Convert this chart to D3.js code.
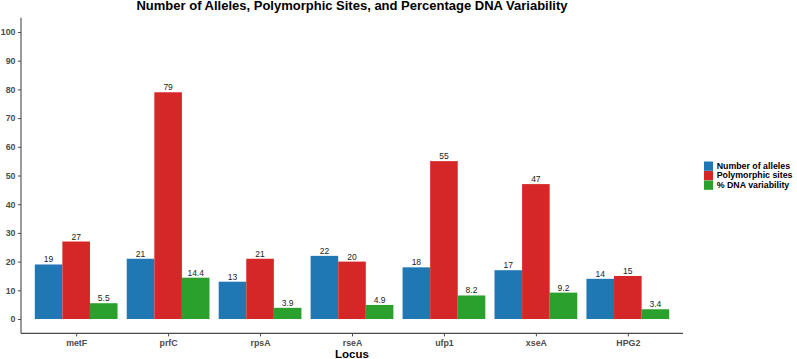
<!DOCTYPE html>
<html>
<head>
<meta charset="utf-8">
<script src="https://cdn.jsdelivr.net/npm/d3@7"></script>
<style>
  body { margin: 0; background: #fff; }
  svg { display: block; font-family: "Liberation Sans", Arial, Helvetica, sans-serif; }
</style>
</head>
<body>
<svg id="chart" width="797" height="359"></svg>
<script>
const loci = ["metF", "prfC", "rpsA", "rseA", "ufp1", "xseA", "HPG2"];
const seriesNames = ["Number of alleles", "Polymorphic sites", "% DNA variability"];
const alleles = [19, 21, 13, 22, 18, 17, 14];
const polySites = [27, 79, 21, 20, 55, 47, 15];
const dnaVar = [5.5, 14.4, 3.9, 4.9, 8.2, 9.2, 3.4];
const valueLabels = [
  ["19","21","13","22","18","17","14"],
  ["27","79","21","20","55","47","15"],
  ["5.5","14.4","3.9","4.9","8.2","9.2","3.4"]
];
const yTicks = [0, 10, 20, 30, 40, 50, 60, 70, 80, 90, 100];
const colors = ["#1f77b4", "#d62728", "#2ca02c"];
const seriesValues = [alleles, polySites, dnaVar];

const svg = d3.select("#chart");
const panelLeft = 21, panelRight = 683, panelTop = 17.65, panelBottom = 333.35;

const x = d3.scalePoint().domain(loci).range([panelLeft, panelRight]).padding(0.6);
const step = x.step();
const xs = d3.scaleBand().domain(seriesNames).range([-0.45 * step, 0.45 * step]).padding(0);
const y = d3.scaleLinear().domain([-5, 105]).range([panelBottom, panelTop]);
const color = d3.scaleOrdinal().domain(seriesNames).range(colors);

// data table
const rows = [];
seriesNames.forEach((s, si) => {
  loci.forEach((l, li) => {
    rows.push({ locus: l, series: s, value: seriesValues[si][li], label: valueLabels[si][li] });
  });
});

// bars
svg.append("g").selectAll("rect").data(rows).join("rect")
  .attr("x", d => x(d.locus) + xs(d.series))
  .attr("width", xs.bandwidth())
  .attr("y", d => y(d.value))
  .attr("height", d => y(0) - y(d.value))
  .attr("fill", d => color(d.series));

// value labels
svg.append("g").selectAll("text").data(rows).join("text")
  .attr("x", d => x(d.locus) + xs(d.series) + xs.bandwidth() / 2)
  .attr("y", d => y(d.value) - 2)
  .attr("text-anchor", "middle")
  .attr("font-size", 8.5)
  .attr("fill", "#222")
  .text(d => d.label);

// axes
const axisColor = "#4a4a4a";
const yAxis = svg.append("g").attr("transform", `translate(${panelLeft},0)`)
  .call(d3.axisLeft(y).tickValues(yTicks).tickSize(3).tickPadding(2.5).tickSizeOuter(0));
yAxis.select(".domain").remove();
yAxis.append("line").attr("x1", 0).attr("x2", 0).attr("y1", panelTop).attr("y2", panelBottom)
  .attr("stroke", axisColor).attr("stroke-width", 1.1);

const xAxis = svg.append("g").attr("transform", `translate(0,${panelBottom})`)
  .call(d3.axisBottom(x).tickSize(3).tickPadding(3).tickSizeOuter(0));
xAxis.select(".domain").remove();
xAxis.append("line").attr("x1", panelLeft).attr("x2", panelRight).attr("y1", 0).attr("y2", 0)
  .attr("stroke", axisColor).attr("stroke-width", 1.1);

[yAxis, xAxis].forEach(g => {
  g.selectAll(".tick line").attr("stroke", axisColor).attr("stroke-width", 1);
  g.selectAll(".tick text").attr("fill", "#4d4d4d").attr("font-size", 8.8)
    .attr("font-weight", "bold").attr("font-family", "Liberation Sans, Arial, sans-serif");
});

// title
svg.append("text").attr("x", (panelLeft + panelRight) / 2).attr("y", 9.6)
  .attr("text-anchor", "middle").attr("font-size", 13).attr("font-weight", "bold")
  .attr("fill", "#000")
  .text("Number of Alleles, Polymorphic Sites, and Percentage DNA Variability");

// x axis title
svg.append("text").attr("x", (panelLeft + panelRight) / 2).attr("y", 357.6)
  .attr("text-anchor", "middle").attr("font-size", 11.5).attr("font-weight", "bold")
  .attr("fill", "#000").text("Locus");

// legend
const legend = svg.append("g").attr("transform", "translate(704,161.5)");
const lg = legend.selectAll("g").data(seriesNames).join("g")
  .attr("transform", (d, i) => `translate(0,${i * 9.5})`);
lg.append("rect").attr("width", 9).attr("height", 9.3).attr("fill", d => color(d));
lg.append("text").attr("x", 12.7).attr("y", 7.2).attr("font-size", 8.8)
  .attr("font-weight", "bold").attr("fill", "#000").text(d => d);
</script>
</body>
</html>
